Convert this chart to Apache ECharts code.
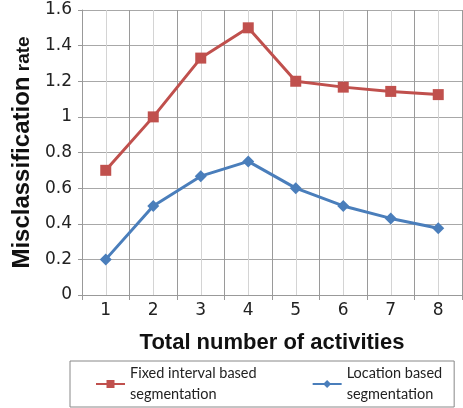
<!DOCTYPE html>
<html>
<head>
<meta charset="utf-8">
<script src="https://cdn.jsdelivr.net/npm/echarts@6/dist/echarts.min.js"></script>
<style>html,body{margin:0;padding:0;background:#fff;}#c{width:463px;height:408px;}</style>
</head>
<body>
<div id="c"></div>
<script>
const categories = ['1','2','3','4','5','6','7','8'];
const fixedInterval = [0.7, 1.0, 1.33, 1.5, 1.2, 1.167, 1.143, 1.125];
const locationBased = [0.2, 0.5, 0.667, 0.75, 0.6, 0.5, 0.43, 0.375];
const yTicks = {min: 0, max: 1.6, interval: 0.2};
const seriesNames = ['Fixed interval based\nsegmentation', 'Location based\nsegmentation'];

const chart = echarts.init(document.getElementById('c'), null, {renderer: 'canvas'});
chart.setOption({
  animation: false,
  backgroundColor: '#fff',
  grid: {left: 82, right: 1, top: 10, bottom: 113, containLabel: false},
  legend: {
    data: seriesNames,
    left: 70, top: 361,
    padding: [2, 12, 2, 25],
    itemGap: 55,
    itemWidth: 29, itemHeight: 10,
    borderColor: '#888', borderWidth: 1,
    textStyle: {fontFamily: 'Lato, "Open Sans", sans-serif', fontSize: 14.5, color: '#222', lineHeight: 21}
  },
  xAxis: [{
    type: 'category', data: categories, boundaryGap: true,
    axisLine: {lineStyle: {color: '#999', width: 1}},
    axisTick: {show: true, length: 5, lineStyle: {color: '#999'}},
    axisLabel: {fontFamily: '"DejaVu Sans", sans-serif', fontSize: 17, color: '#222', margin: 7},
    splitLine: {show: true, lineStyle: {color: '#9a9a9a', width: 1}},
    name: 'Total number of activities', nameLocation: 'middle', nameGap: 37,
    nameTextStyle: {fontFamily: 'Liberation Sans, Arial, sans-serif', fontWeight: 'bold', fontSize: 22, color: '#111'}
  }, {
    type: 'value', min: 0.5, max: 8.5, interval: 1, position: 'bottom',
    axisLine: {show: false}, axisTick: {show: false}, axisLabel: {show: false},
    splitLine: {show: false},
    minorTick: {show: false, splitNumber: 2},
    minorSplitLine: {show: true, lineStyle: {color: '#d4d4d4', width: 1}}
  }],
  yAxis: {
    type: 'value', min: yTicks.min, max: yTicks.max, interval: yTicks.interval,
    axisLine: {show: true, lineStyle: {color: '#999'}},
    axisTick: {show: true, length: 4, lineStyle: {color: '#999'}},
    axisLabel: {fontFamily: '"DejaVu Sans", sans-serif', fontSize: 17, color: '#222', margin: 10},
    splitLine: {show: true, lineStyle: {color: '#a8a8a8', width: 1}},
    name: '{a|Misclassification}{b| rate}', nameLocation: 'middle', nameRotate: 90, nameGap: 47,
    nameTextStyle: {rich: {
      a: {fontFamily: '"Liberation Sans", Arial, sans-serif', fontWeight: 'bold', fontSize: 24, color: '#111', verticalAlign: 'bottom', lineHeight: 26},
      b: {fontFamily: '"Liberation Sans", Arial, sans-serif', fontWeight: 'bold', fontSize: 19, color: '#111', verticalAlign: 'bottom', lineHeight: 21, padding: [0, 0, 1, 0]}
    }}
  },
  series: [{
    name: seriesNames[0], type: 'line', data: fixedInterval, xAxisIndex: 0,
    symbol: 'rect', symbolSize: 11,
    lineStyle: {color: '#c0504d', width: 3},
    itemStyle: {color: '#c0504d'}
  }, {
    name: seriesNames[1], type: 'line', data: locationBased, xAxisIndex: 0,
    symbol: 'diamond', symbolSize: 12,
    lineStyle: {color: '#4a7ebb', width: 3},
    itemStyle: {color: '#4a7ebb'}
  }]
});
</script>
</body>
</html>
